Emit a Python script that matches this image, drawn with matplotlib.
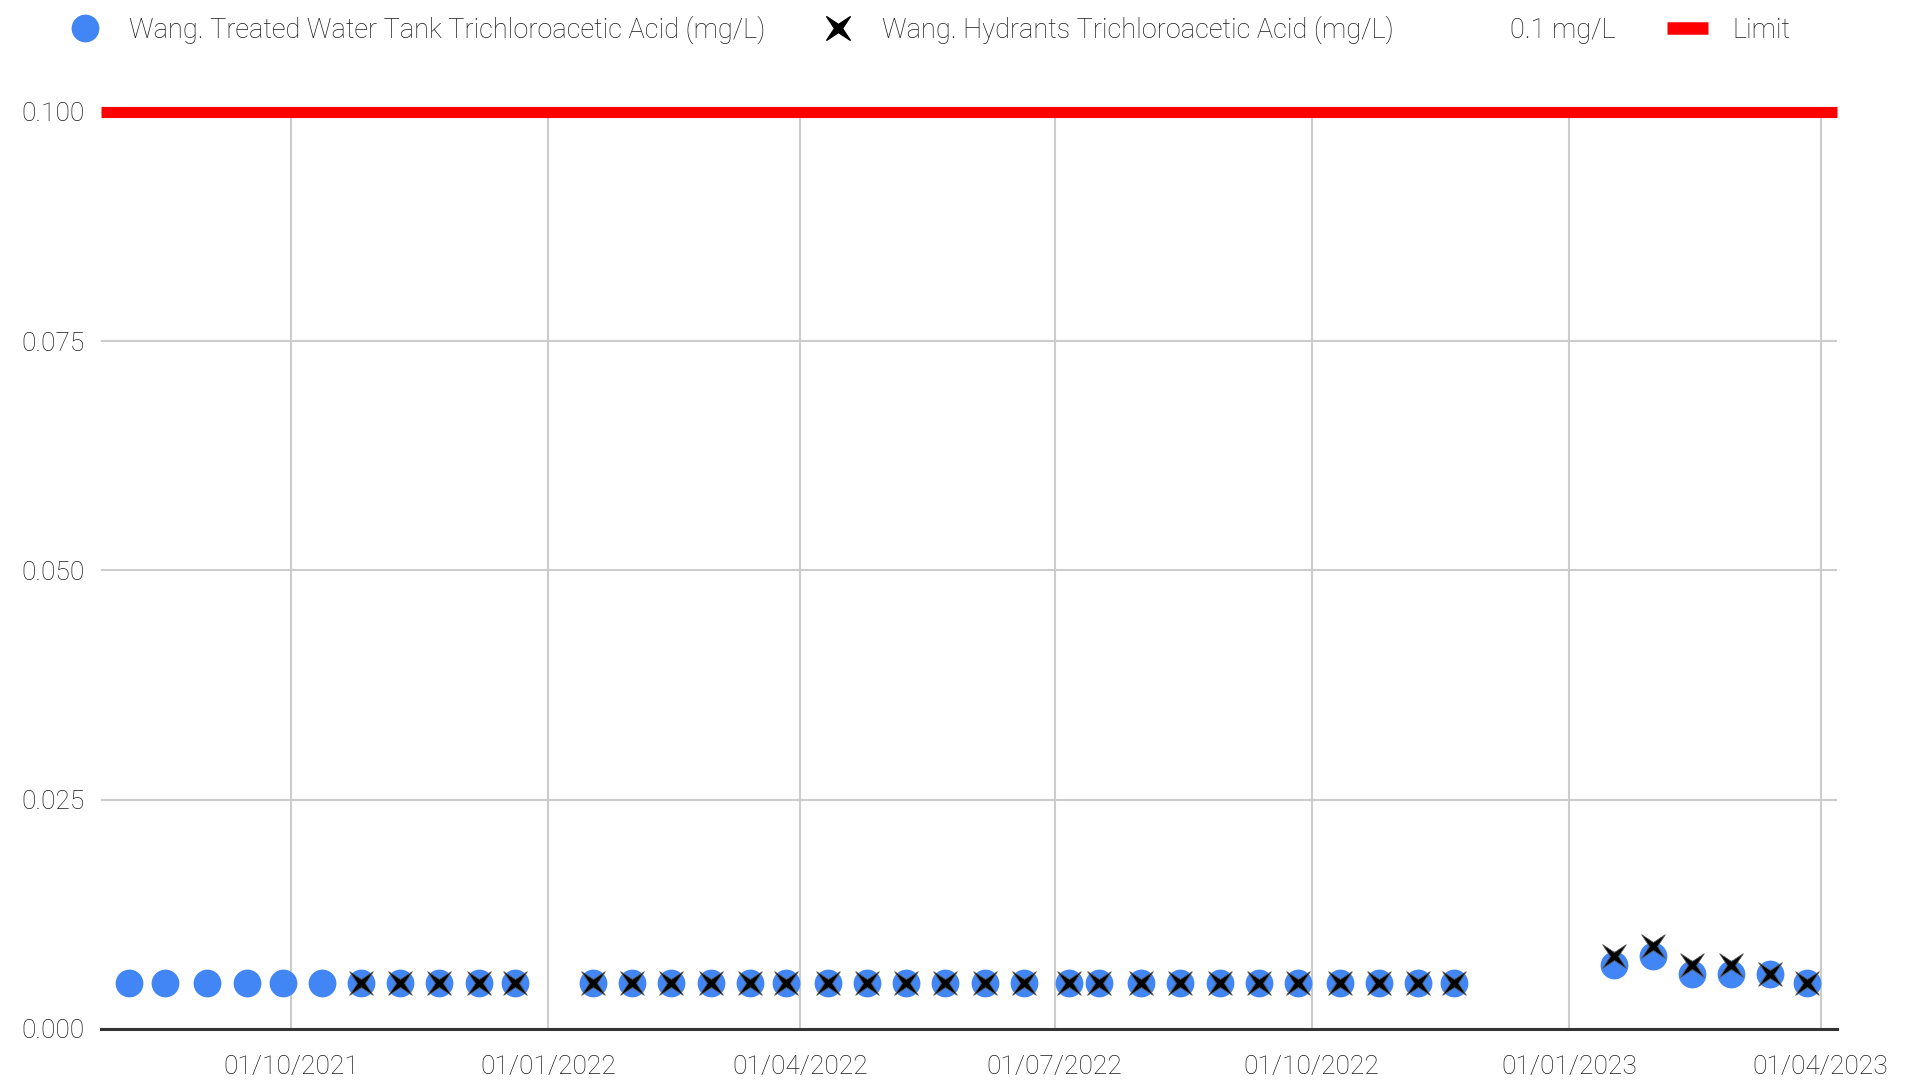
import datetime as dt
import matplotlib
matplotlib.use("Agg")
import matplotlib.pyplot as plt
import matplotlib.dates as mdates
from matplotlib.lines import Line2D
from matplotlib.path import Path

plt.rcParams["font.family"] = ["Roboto", "DejaVu Sans"]
plt.rcParams["font.weight"] = "light"

# sample dates (roughly every two weeks)
tank_dates = [
    "2021-08-04", "2021-08-17", "2021-09-01", "2021-09-15", "2021-09-28", "2021-10-12",
    "2021-10-26", "2021-11-09", "2021-11-23", "2021-12-07", "2021-12-20",
    "2022-01-17", "2022-01-31", "2022-02-14", "2022-02-28", "2022-03-14", "2022-03-27",
    "2022-04-11", "2022-04-25", "2022-05-09", "2022-05-23", "2022-06-06", "2022-06-20",
    "2022-07-06", "2022-07-17", "2022-08-01", "2022-08-15", "2022-08-29", "2022-09-12",
    "2022-09-26", "2022-10-11", "2022-10-25", "2022-11-08", "2022-11-21",
    "2023-01-17", "2023-01-31", "2023-02-14", "2023-02-28", "2023-03-14", "2023-03-27",
]
tank_vals = [0.005] * 34 + [0.007, 0.008, 0.006, 0.006, 0.006, 0.005]

hydrant_dates = tank_dates[6:]
hydrant_vals = [0.005] * 28 + [0.008, 0.009, 0.007, 0.007, 0.006, 0.005]

limit_value = 0.1
x_start, x_end = "2021-07-25", "2023-04-07"
y_ticks = [0.0, 0.025, 0.05, 0.075, 0.1]

to_d = lambda s: dt.datetime.strptime(s, "%Y-%m-%d")
td = [to_d(s) for s in tank_dates]
hd = [to_d(s) for s in hydrant_dates]

# tapered x, like the one in the original chart
a = 0.34
star_x = Path([(1, 1), (0, a), (-1, 1), (-a, 0), (-1, -1), (0, -a), (1, -1), (a, 0), (1, 1)],
              [Path.MOVETO] + [Path.LINETO] * 7 + [Path.CLOSEPOLY])

text_col = "#1a1a1a"

fig = plt.figure(figsize=(19.08, 10.86), dpi=100)
ax = fig.add_axes([0.053, 0.0525, 0.910, 0.8445])

ax.plot(td, tank_vals, "o", color="#4285f4", markersize=20, markeredgewidth=0, zorder=3)
ax.plot(hd, hydrant_vals, marker=star_x, linestyle="none", color="black", markersize=17,
        markeredgewidth=0.6, markeredgecolor="#555555", zorder=4)
ax.plot([to_d(x_start), to_d(x_end)], [limit_value, limit_value], color="#ff0000",
        linewidth=8, solid_capstyle="butt", clip_on=False, zorder=5)

ax.set_xlim(to_d(x_start), to_d(x_end))
ax.set_ylim(0, 0.1)
ax.set_yticks(y_ticks)
ax.set_yticklabels([f"{v:.3f}" for v in y_ticks])
ax.xaxis.set_major_locator(mdates.MonthLocator(bymonth=[1, 4, 7, 10], bymonthday=1))
ax.xaxis.set_major_formatter(mdates.DateFormatter("%d/%m/%Y"))

ax.grid(True, color="#cccccc", linewidth=1.5, zorder=0)
for s in ["top", "right", "left"]:
    ax.spines[s].set_visible(False)
ax.spines["bottom"].set_color("#333333")
ax.spines["bottom"].set_linewidth(2.2)
ax.tick_params(length=0, labelsize=19, colors=text_col)
ax.tick_params(axis="x", pad=19)
ax.tick_params(axis="y", pad=12)

handles = [
    Line2D([], [], marker="o", linestyle="none", color="#4285f4", markersize=20, markeredgewidth=0),
    Line2D([], [], marker=star_x, linestyle="none", color="black", markersize=17),
    Line2D([], [], linestyle="none"),
    Line2D([], [], color="#ff0000", linewidth=9, solid_capstyle="butt"),
]
labels = ["Wang. Treated Water Tank Trichloroacetic Acid (mg/L)",
          "Wang. Hydrants Trichloroacetic Acid (mg/L)", "0.1 mg/L", "Limit"]
fig.legend(handles, labels, loc="upper left", bbox_to_anchor=(0.021, 1.008), ncol=4,
           frameon=False, fontsize=19.5, labelcolor=text_col, handletextpad=0.9,
           columnspacing=1.9, handlelength=1.5)

fig.savefig("out.png", dpi=100)
